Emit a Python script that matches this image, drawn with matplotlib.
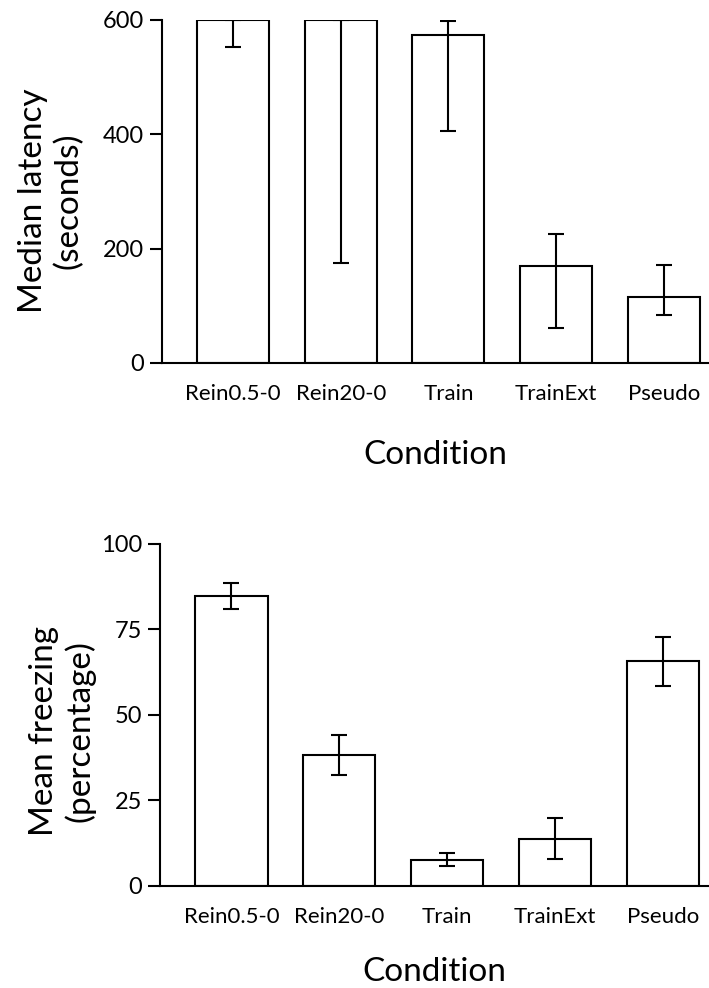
import matplotlib
matplotlib.use('Agg')
from matplotlib import pyplot as plt

conditions = ['Rein0.5-0', 'Rein20-0', 'Train', 'TrainExt', 'Pseudo']

# top panel: median latency (seconds), error bar ends
latency = [600, 600, 574, 170, 116]
latency_lo = [553, 175, 406, 62, 84]
latency_hi = [600, 600, 598, 226, 172]

# bottom panel: mean freezing (percentage)
freezing = [84.7, 38.2, 7.6, 13.8, 65.7]
freezing_lo = [80.9, 32.3, 5.8, 7.7, 58.5]
freezing_hi = [88.7, 44.0, 9.5, 19.9, 72.9]

plt.rcParams['font.family'] = ['Lato', 'DejaVu Sans']

fig = plt.figure(figsize=(7.09, 9.88), dpi=100)
ax1 = fig.add_axes([0.2285, 0.6326, 0.7715, 0.3472])
ax2 = fig.add_axes([0.2257, 0.1035, 0.7743, 0.3459])


def panel(ax, vals, lo, hi, ymax, ticks, ylabel, xlim, label_xy, xlabel_pad):
    x = list(range(len(vals)))
    yerr = [[v - l for v, l in zip(vals, lo)], [h - v for v, h in zip(vals, hi)]]
    ax.bar(x, vals, width=0.67, color='white', edgecolor='black', linewidth=1.5, zorder=2)
    ax.errorbar(x, vals, yerr=yerr, fmt='none', ecolor='black', elinewidth=1.5,
                capsize=6, capthick=1.5, zorder=3)
    ax.set_xlim(*xlim)
    ax.set_ylim(0, ymax)
    ax.set_yticks(ticks)
    ax.set_xticks(x)
    ax.set_xticklabels(conditions, fontsize=16)
    ax.tick_params(axis='x', length=0, pad=15)
    ax.tick_params(axis='y', direction='out', length=9, width=1.5, labelsize=17, pad=4)
    for s in ('top', 'right'):
        ax.spines[s].set_visible(False)
    for s in ('left', 'bottom'):
        ax.spines[s].set_linewidth(1.5)
    ax.set_ylabel(ylabel, fontsize=24, linespacing=1.2, va='center')
    ax.yaxis.set_label_coords(*label_xy)
    ax.set_xlabel('Condition', fontsize=24, labelpad=xlabel_pad)


panel(ax1, latency, latency_lo, latency_hi, 600, [0, 200, 400, 600],
      'Median latency\n(seconds)', (-0.66, 4.42), (-0.203, 0.472), 26)
panel(ax2, freezing, freezing_lo, freezing_hi, 100, [0, 25, 50, 75, 100],
      'Mean freezing\n(percentage)', (-0.663, 4.43), (-0.178, 0.453), 22)

plt.savefig('out.png', dpi=100)
